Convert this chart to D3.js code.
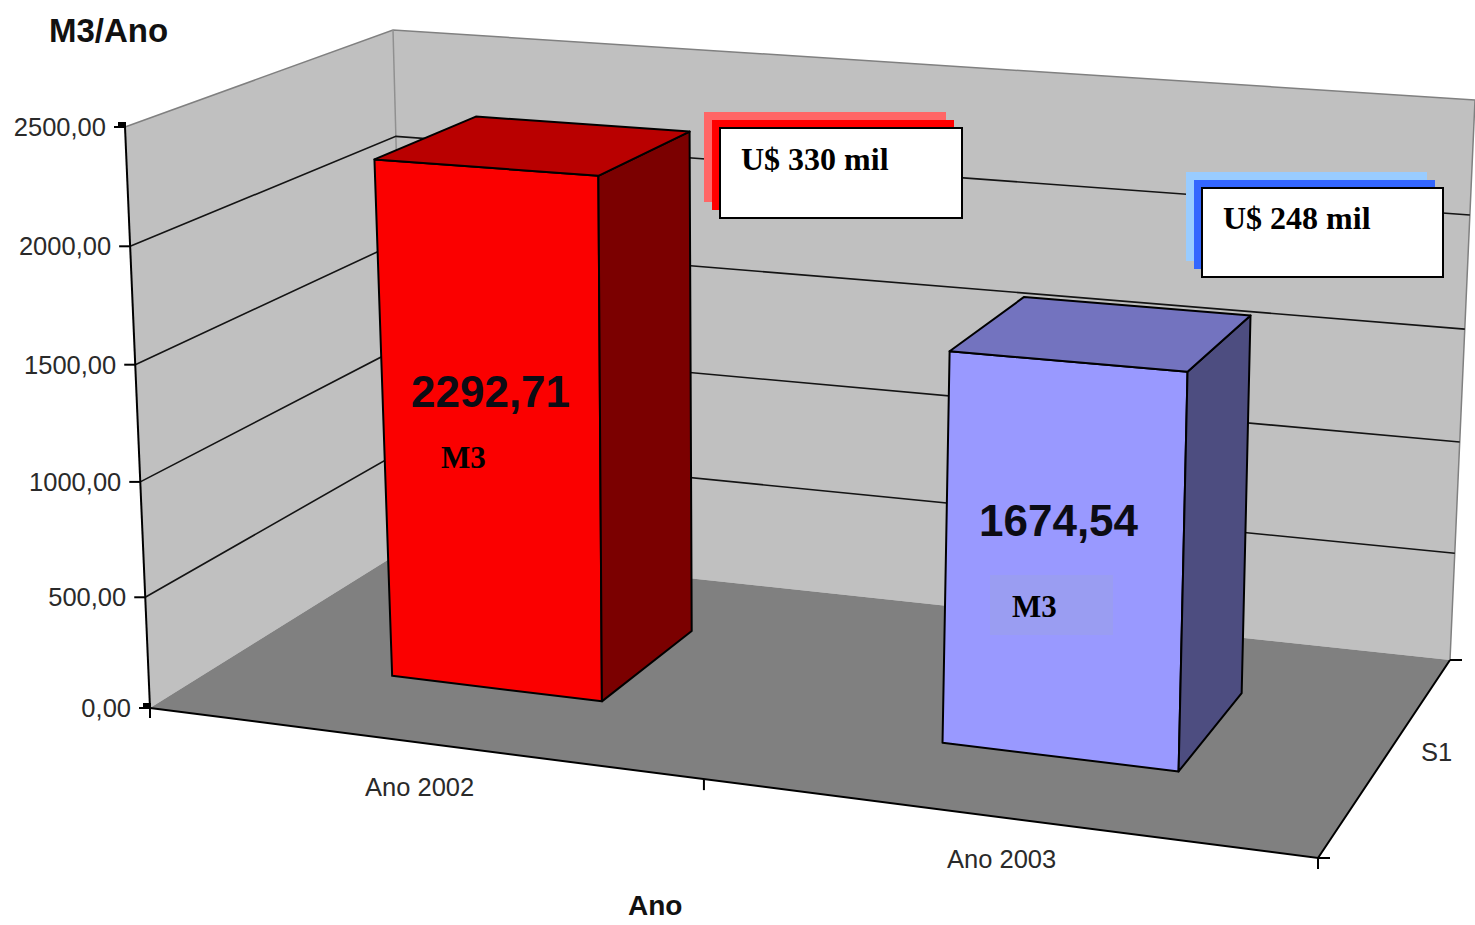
<!DOCTYPE html>
<html lang="pt">
<head>
<meta charset="utf-8">
<title>M3/Ano</title>
<script src="https://cdn.jsdelivr.net/npm/d3@7/dist/d3.min.js"></script>
<style>
html, body { margin: 0; padding: 0; background: #fff; }
svg { display: block; }
text { font-family: "Liberation Sans", Arial, sans-serif; }
</style>
</head>
<body>
<div id="chart"></div>
<script>
// Chart data
const categories = ["Ano 2002", "Ano 2003"];
const values = [2292.71, 1674.54];
const valueLabels = ["2292,71", "1674,54"];
const yTicks = [0, 500, 1000, 1500, 2000, 2500];
const yTickLabels = ["0,00", "500,00", "1000,00", "1500,00", "2000,00", "2500,00"];
const costLabels = ["U$ 330 mil", "U$ 248 mil"];
const unitLabel = "M3";
const seriesName = "S1";

// Face colours of each column: front, top, side
const frontColors = ["#fb0000", "#9999ff"];
const topColors = ["#b90000", "#7373bf"];
const sideColors = ["#7b0000", "#4d4d80"];

const width = 1475, height = 925;
const svg = d3.select("#chart").append("svg").attr("width", width).attr("height", height);

// Corners of the chart box on screen, listed front-left, front-right, back-right, back-left
const floorQuad = [[150, 708], [1318, 858], [1450, 660], [407, 548]];
const ceilQuad = [[125, 127], [1343, 213], [1475, 100], [393, 30]];
// Extra slant of the columns at full axis height, relative to the walls
const columnSlant = [-13, 3.5];

// Projective map of the unit square onto a quadrilateral
function homography(q) {
  const [[x0, y0], [x1, y1], [x2, y2], [x3, y3]] = q;
  const dx1 = x1 - x2, dx2 = x3 - x2, sx = x0 - x1 + x2 - x3;
  const dy1 = y1 - y2, dy2 = y3 - y2, sy = y0 - y1 + y2 - y3;
  const den = dx1 * dy2 - dx2 * dy1;
  const g = (sx * dy2 - dx2 * sy) / den;
  const h = (dx1 * sy - sx * dy1) / den;
  const a = x1 - x0 + g * x1, b = x3 - x0 + h * x3;
  const d = y1 - y0 + g * y1, e = y3 - y0 + h * y3;
  return (u, v) => {
    const w = g * u + h * v + 1;
    return [(a * u + b * v + x0) / w, (d * u + e * v + y0) / w];
  };
}
const floorAt = homography(floorQuad);
const ceilAt = homography(ceilQuad);

// Scales: category across the box, value up the box, fixed depth range for the single series
const xBand = d3.scaleBand().domain(categories).range([0.005, 1.005]).paddingInner(0.605).paddingOuter(0.3025);
const yScale = d3.scalePow().exponent(1.03).domain([0, 2500]).range([0, 1]);
const depth = d3.scaleLinear().domain([0, 1]).range([0.295, 0.705]);

function project(u, d, value) {
  const f = floorAt(u, d), c = ceilAt(u, d), t = yScale(value);
  return [f[0] + (c[0] - f[0]) * t, f[1] + (c[1] - f[1]) * t];
}
function projectColumn(u, d, value) {
  const p = project(u, d, value), t = yScale(value);
  return [p[0] + columnSlant[0] * t, p[1] + columnSlant[1] * t];
}
const poly = d3.line().curve(d3.curveLinearClosed);
const open = d3.line();

// Walls and floor
const vMax = yScale.domain()[1];
svg.append("path").attr("fill", "#c0c0c0")
  .attr("d", poly([project(0, 0, 0), project(0, 0, vMax), project(0, 1, vMax), project(0, 1, 0)]));
svg.append("path").attr("fill", "#c0c0c0")
  .attr("d", poly([project(0, 1, 0), project(0, 1, vMax), project(1, 1, vMax), project(1, 1, 0)]));
svg.append("path").attr("fill", "#808080")
  .attr("d", poly([project(0, 0, 0), project(1, 0, 0), project(1, 1, 0), project(0, 1, 0)]));

// Wall outlines
svg.append("path").attr("fill", "none").attr("stroke", "#808080").attr("stroke-width", 1.5)
  .attr("d", open([project(0, 0, vMax), project(0, 1, vMax), project(1, 1, vMax), project(1, 1, 0)]));
svg.append("path").attr("fill", "none").attr("stroke", "#909090").attr("stroke-width", 1.5)
  .attr("d", open([project(0, 1, vMax), project(0, 1, 0)]));

// Gridlines run along the side wall and then the back wall
svg.append("g").selectAll("path").data(yTicks.filter(v => v > 0 && v < vMax)).join("path")
  .attr("fill", "none").attr("stroke", "#141414").attr("stroke-width", 1.6)
  .attr("d", v => open([project(0, 0, v), project(0, 1, v), project(1, 1, v)]));

// Floor front and side edges
svg.append("path").attr("fill", "none").attr("stroke", "#000").attr("stroke-width", 2)
  .attr("d", open([project(0, 0, 0), project(1, 0, 0), project(1, 1, 0)]));

// Value axis
svg.append("path").attr("fill", "none").attr("stroke", "#000").attr("stroke-width", 2)
  .attr("d", open([project(0, 0, 0), project(0, 0, vMax)]));
const yAxis = svg.append("g").selectAll("g").data(yTicks).join("g");
yAxis.append("line")
  .attr("x1", v => project(0, 0, v)[0] - 11).attr("x2", v => project(0, 0, v)[0])
  .attr("y1", v => project(0, 0, v)[1]).attr("y2", v => project(0, 0, v)[1])
  .attr("stroke", "#000").attr("stroke-width", 2);
yAxis.append("text")
  .attr("x", v => project(0, 0, v)[0] - 19).attr("y", v => project(0, 0, v)[1] + 9)
  .attr("text-anchor", "end").attr("font-size", 25.5).attr("fill", "#2a2a2a")
  .text((v, i) => yTickLabels[i]);

// Small end caps at the top and bottom of the value axis
svg.append("g").selectAll("rect").data([0, vMax]).join("rect")
  .attr("x", v => project(0, 0, v)[0] - 7).attr("y", v => project(0, 0, v)[1] - 5)
  .attr("width", 8).attr("height", 5).attr("fill", "#000");
svg.append("line")
  .attr("x1", project(0, 0, 0)[0]).attr("x2", project(0, 0, 0)[0])
  .attr("y1", project(0, 0, 0)[1]).attr("y2", project(0, 0, 0)[1] + 10)
  .attr("stroke", "#000").attr("stroke-width", 2);

// Category axis ticks at the band boundaries
const boundary = [xBand.range()[0] + xBand.step(), 1];
svg.append("g").selectAll("line").data(boundary).join("line")
  .attr("x1", u => project(u, 0, 0)[0]).attr("x2", u => project(u, 0, 0)[0])
  .attr("y1", u => project(u, 0, 0)[1]).attr("y2", u => project(u, 0, 0)[1] + 11)
  .attr("stroke", "#000").attr("stroke-width", 2);

// Depth axis ticks
svg.append("g").selectAll("line").data([0, 1]).join("line")
  .attr("x1", d => project(1, d, 0)[0]).attr("x2", d => project(1, d, 0)[0] + 12)
  .attr("y1", d => project(1, d, 0)[1]).attr("y2", d => project(1, d, 0)[1])
  .attr("stroke", "#000").attr("stroke-width", 2);

// Columns, three visible faces each
const bars = categories.map((c, i) => {
  const u0 = xBand(c), u1 = u0 + xBand.bandwidth();
  const d0 = depth(0), d1 = depth(1), v = values[i];
  const P = projectColumn;
  return {
    i,
    front: [P(u0, d0, 0), P(u1, d0, 0), P(u1, d0, v), P(u0, d0, v)],
    side: [P(u1, d0, 0), P(u1, d1, 0), P(u1, d1, v), P(u1, d0, v)],
    top: [P(u0, d0, v), P(u1, d0, v), P(u1, d1, v), P(u0, d1, v)]
  };
});
const barGroup = svg.append("g").selectAll("g").data(bars).join("g")
  .attr("stroke", "#000").attr("stroke-width", 2).attr("stroke-linejoin", "round");
barGroup.append("path").attr("fill", d => frontColors[d.i]).attr("d", d => poly(d.front));
barGroup.append("path").attr("fill", d => sideColors[d.i]).attr("d", d => poly(d.side));
barGroup.append("path").attr("fill", d => topColors[d.i]).attr("d", d => poly(d.top));

// Shaded patch behind the second column's unit label
svg.append("rect").attr("x", 990).attr("y", 575).attr("width", 123).attr("height", 60).attr("fill", "#9a9df2");

// Value and unit labels on the column fronts
const valuePos = [[411, 407], [979, 536]];
const unitPos = [[441, 468], [1012, 617]];
svg.append("g").selectAll("text").data(valueLabels).join("text")
  .attr("x", (d, i) => valuePos[i][0]).attr("y", (d, i) => valuePos[i][1])
  .attr("font-size", 44).attr("font-weight", "bold").attr("fill", "#0c0c14").text(d => d);
svg.append("g").selectAll("text").data(categories).join("text")
  .attr("x", (d, i) => unitPos[i][0]).attr("y", (d, i) => unitPos[i][1])
  .attr("font-size", 31).attr("font-weight", "bold").attr("fill", "#000")
  .style("font-family", '"Liberation Serif", serif').text(unitLabel);

// Cost call-outs: two coloured offset sheets under a white box
const noteBoxes = [
  { x: 720, y: 128, w: 242, h: 90, back: "#ff6666", mid: "#ff0000", tx: 741, ty: 170 },
  { x: 1202, y: 188, w: 241, h: 89, back: "#99ccff", mid: "#3366ff", tx: 1223, ty: 229 }
];
const notes = svg.append("g").selectAll("g").data(noteBoxes).join("g");
notes.append("rect").attr("x", d => d.x - 16).attr("y", d => d.y - 16)
  .attr("width", d => d.w).attr("height", d => d.h).attr("fill", d => d.back);
notes.append("rect").attr("x", d => d.x - 8).attr("y", d => d.y - 8)
  .attr("width", d => d.w).attr("height", d => d.h).attr("fill", d => d.mid);
notes.append("rect").attr("x", d => d.x).attr("y", d => d.y)
  .attr("width", d => d.w).attr("height", d => d.h)
  .attr("fill", "#fff").attr("stroke", "#000").attr("stroke-width", 2);
notes.append("text").attr("x", d => d.tx).attr("y", d => d.ty)
  .attr("font-size", 32).attr("font-weight", "bold").attr("fill", "#000")
  .style("font-family", '"Liberation Serif", serif')
  .text((d, i) => costLabels[i]);

// Category and series labels, axis titles
const catPos = [[365, 796], [947, 868]];
svg.append("g").selectAll("text").data(categories).join("text")
  .attr("x", (d, i) => catPos[i][0]).attr("y", (d, i) => catPos[i][1])
  .attr("font-size", 25.5).attr("fill", "#2a2a2a").text(d => d);
svg.append("text").attr("x", 1421).attr("y", 761).attr("font-size", 25.5).attr("fill", "#2a2a2a").text(seriesName);
svg.append("text").attr("x", 49).attr("y", 42).attr("font-size", 33).attr("font-weight", "bold").attr("fill", "#111").text("M3/Ano");
svg.append("text").attr("x", 628).attr("y", 915).attr("font-size", 28).attr("font-weight", "bold").attr("fill", "#111").text("Ano");
</script>
</body>
</html>
